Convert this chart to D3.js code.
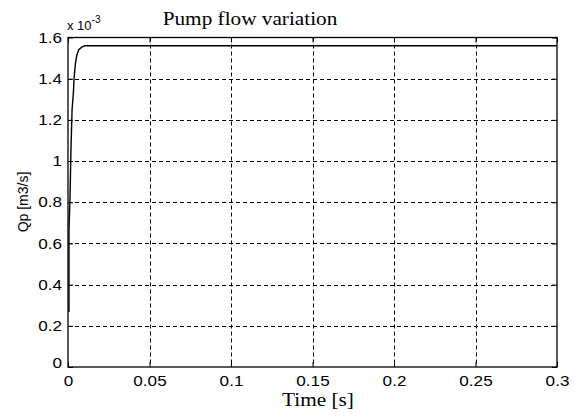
<!DOCTYPE html>
<html><head><meta charset="utf-8">
<script src="https://cdn.jsdelivr.net/npm/d3@7/dist/d3.min.js"></script>
<style>body{margin:0;background:#fff}svg{display:block}</style>
</head><body>
<svg id="c" width="574" height="417"></svg>
<script>
// data (flow in units of 1e-3 m3/s)
const timeS = [0, 0.0006, 0.0006, 0.0012, 0.0018, 0.0025, 0.0033, 0.0037, 0.0045, 0.0053, 0.0065, 0.0084, 0.0104, 0.3];
const flowQp = [0.27, 0.27, 0.665, 0.81, 1.05, 1.25, 1.33, 1.40, 1.47, 1.51, 1.54, 1.553, 1.56, 1.56];
const xTicks = [0, 0.05, 0.1, 0.15, 0.2, 0.25, 0.3];
const xTickLabels = ["0", "0.05", "0.1", "0.15", "0.2", "0.25", "0.3"];
const yTicks = [0, 0.2, 0.4, 0.6, 0.8, 1, 1.2, 1.4, 1.6];
const yTickLabels = ["0", "0.2", "0.4", "0.6", "0.8", "1", "1.2", "1.4", "1.6"];

const L = 68, R = 557, T = 37.5, B = 367;
const svg = d3.select("#c");
const x = d3.scaleLinear().domain([0, 0.3]).range([L, R]);
const y = d3.scaleLinear().domain([0, 1.6]).range([B, T]);
const sans = "'Liberation Sans', Arial, sans-serif";
const serif = "'Liberation Serif', 'Times New Roman', serif";
const STRETCH = 1.18;
function widen(sel) {
  sel.each(function () {
    const w = this.getComputedTextLength();
    if (w > 0) d3.select(this).attr("textLength", w * STRETCH).attr("lengthAdjust", "spacingAndGlyphs");
  });
}

// grid
const g = svg.append("g");
g.selectAll("line.gx").data(xTicks.slice(1, -1)).join("line")
  .attr("x1", d => Math.round(x(d)) + 0.5).attr("x2", d => Math.round(x(d)) + 0.5)
  .attr("y1", T).attr("y2", B)
  .attr("stroke", "#000").attr("stroke-width", 1).attr("stroke-dasharray", "4,3");
g.selectAll("line.gy").data(yTicks.slice(1, -1)).join("line")
  .attr("y1", d => Math.round(y(d)) + 0.5).attr("y2", d => Math.round(y(d)) + 0.5)
  .attr("x1", L).attr("x2", R)
  .attr("stroke", "#000").attr("stroke-width", 1).attr("stroke-dasharray", "4,3");

// axes
const xAx = svg.append("g").attr("transform", `translate(0,${B})`)
  .call(d3.axisBottom(x).tickValues(xTicks).tickFormat((d, i) => xTickLabels[i]).tickSize(-5).tickPadding(9));
const yAx = svg.append("g").attr("transform", `translate(${L},0)`)
  .call(d3.axisLeft(y).tickValues(yTicks).tickFormat((d, i) => yTickLabels[i]).tickSize(-5).tickPadding(6));
const xTop = svg.append("g").attr("transform", `translate(0,${T})`)
  .call(d3.axisTop(x).tickValues(xTicks).tickFormat("").tickSize(-5));
const yRight = svg.append("g").attr("transform", `translate(${R},0)`)
  .call(d3.axisRight(y).tickValues(yTicks).tickFormat("").tickSize(-5));
[xAx, yAx, xTop, yRight].forEach(a => {
  a.select(".domain").remove();
  a.selectAll("line").attr("stroke", "#000");
  a.selectAll("text").attr("font-family", sans).attr("font-size", 14.5).attr("fill", "#000");
});
yAx.selectAll("text").attr("dy", "0.32em");
yAx.selectAll(".tick").filter(d => d === 0).select("text").attr("dy", "0.05em");
widen(xAx.selectAll("text"));
widen(yAx.selectAll("text"));

// box
svg.append("rect").attr("x", L).attr("y", T).attr("width", R - L).attr("height", B - T)
  .attr("fill", "none").attr("stroke", "#000").attr("stroke-width", 1.3);

// line
const line = d3.line().x((d, i) => x(timeS[i])).y(d => y(d));
svg.append("path").datum(flowQp).attr("d", line)
  .attr("fill", "none").attr("stroke", "#000").attr("stroke-width", 1.4);

// texts
widen(svg.append("text").attr("x", 250).attr("y", 25).attr("text-anchor", "middle")
  .attr("font-family", serif).attr("font-size", 18).text("Pump flow variation"));
widen(svg.append("text").attr("x", 318).attr("y", 406).attr("text-anchor", "middle")
  .attr("font-family", serif).attr("font-size", 18).text("Time [s]"));
svg.append("text").attr("transform", "translate(28,202) rotate(-90)").attr("text-anchor", "middle")
  .attr("font-family", sans).attr("font-size", 14).text("Qp [m3/s]");
const ex = svg.append("text").attr("x", 67).attr("y", 30).attr("font-family", sans).attr("font-size", 13);
ex.append("tspan").text("x 10");
ex.append("tspan").attr("dy", -7).attr("font-size", 10).text("-3");
</script>
</body></html>
